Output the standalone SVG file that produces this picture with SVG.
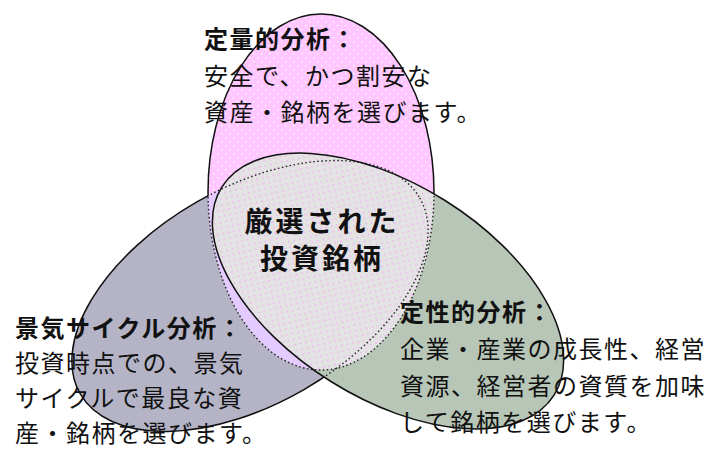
<svg xmlns="http://www.w3.org/2000/svg" xmlns:xlink="http://www.w3.org/1999/xlink" width="713" height="450" viewBox="0 0 713 450">
<style>
.lbl{font-family:"Noto Sans CJK JP","Noto Sans",sans-serif;font-size:24px;letter-spacing:1.5px;fill:#111}
.ttl{font-weight:bold}
.ctr{font-family:"Noto Sans CJK JP","Noto Sans",sans-serif;font-size:28px;font-weight:bold;letter-spacing:3px;fill:#111;text-anchor:middle}
.solid{fill:none;stroke:#111;stroke-width:1.5}
.dot{fill:none;stroke:#222;stroke-width:1.4;stroke-dasharray:1.5 2.5}
</style>
<defs>
<ellipse id="eP" cx="321" cy="192" rx="113" ry="178"/>
<ellipse id="eB" cx="250" cy="296" rx="196" ry="108" transform="rotate(-30 250 296)"/>
<ellipse id="eG" cx="388" cy="291" rx="196" ry="107" transform="rotate(32 388 291)"/>
<pattern id="pPink" width="8" height="8" patternUnits="userSpaceOnUse">
<rect width="8" height="8" fill="#ffc6ff"/><rect x="1" y="1" width="1.3" height="1.3" fill="#ffffff"/><rect x="5" y="5" width="1.3" height="1.3" fill="#ffffff"/>
</pattern>
<pattern id="pGray" width="8" height="8" patternUnits="userSpaceOnUse">
<rect width="8" height="8" fill="#e3e3e3"/><rect x="1" y="1" width="1.3" height="1.3" fill="#ff9cff"/><rect x="5" y="5" width="1.3" height="1.3" fill="#ff9cff"/>
</pattern>
<clipPath id="cpP"><use xlink:href="#eP"/></clipPath>
<clipPath id="cpBG"><use xlink:href="#eB"/><use xlink:href="#eG"/></clipPath>
<clipPath id="cpPG"><use xlink:href="#eP"/><use xlink:href="#eG"/></clipPath>
<mask id="mOutBG" maskUnits="userSpaceOnUse" x="0" y="0" width="713" height="450">
<rect width="713" height="450" fill="#fff"/><use xlink:href="#eB" fill="#000"/><use xlink:href="#eG" fill="#000"/>
</mask>
<mask id="mOutPG" maskUnits="userSpaceOnUse" x="0" y="0" width="713" height="450">
<rect width="713" height="450" fill="#fff"/><use xlink:href="#eP" fill="#000"/><use xlink:href="#eG" fill="#000"/>
</mask>
</defs>
<rect width="713" height="450" fill="#ffffff"/>
<g id="node-quant-fill"><use xlink:href="#eP" fill="url(#pPink)"/></g>
<g id="node-cycle-fill"><use xlink:href="#eB" fill="#b4b4c6"/>
<g clip-path="url(#cpP)"><use xlink:href="#eB" fill="#e4cbff"/></g></g>
<g id="node-qual-fill"><use xlink:href="#eG" fill="#b7c6b7"/></g>
<g id="node-center-fill" clip-path="url(#cpP)"><use xlink:href="#eG" fill="url(#pGray)"/></g>
<g id="outlines">
<use xlink:href="#eP" class="solid" mask="url(#mOutBG)"/>
<use xlink:href="#eB" class="solid" mask="url(#mOutPG)"/>
<use xlink:href="#eG" class="solid"/>
<g clip-path="url(#cpBG)"><use xlink:href="#eP" class="dot"/></g>
<g clip-path="url(#cpPG)"><use xlink:href="#eB" class="dot"/></g>
</g>
<g id="connectors"/>
<g id="node-quant">
<text class="lbl ttl" x="204" y="48">定量的分析：</text>
<text class="lbl" x="204" y="85">安全で、かつ割安な</text>
<text class="lbl" x="204" y="121">資産・銘柄を選びます。</text>
</g>
<g id="node-cycle">
<text class="lbl ttl" x="15" y="337">景気サイクル分析：</text>
<text class="lbl" x="15" y="372">投資時点での、景気</text>
<text class="lbl" x="15" y="407">サイクルで最良な資</text>
<text class="lbl" x="15" y="442">産・銘柄を選びます。</text>
</g>
<g id="node-qual">
<text class="lbl ttl" x="400" y="321">定性的分析：</text>
<text class="lbl" x="400" y="358">企業・産業の成長性、経営</text>
<text class="lbl" x="400" y="395">資源、経営者の資質を加味</text>
<text class="lbl" x="400" y="431">して銘柄を選びます。</text>
</g>
<g id="node-center">
<text class="ctr" x="322" y="232">厳選された</text>
<text class="ctr" x="322" y="269">投資銘柄</text>
</g>
</svg>
